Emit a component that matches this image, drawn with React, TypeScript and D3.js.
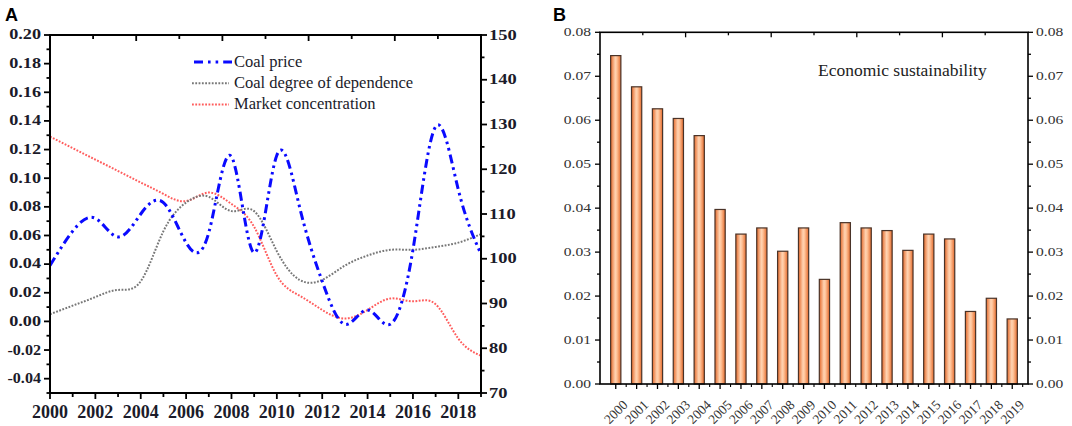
import * as d3 from 'd3'

// ---- data ----
const yearsA = d3.range(2000, 2020)
const coalPrice = [0.039, 0.063, 0.072, 0.059, 0.075, 0.083, 0.055, 0.062, 0.115, 0.048, 0.116, 0.080, 0.028, -0.002, 0.008, -0.002, 0.050, 0.136, 0.092, 0.047]
const coalDependence = [0.005, 0.011, 0.017, 0.022, 0.028, 0.063, 0.083, 0.087, 0.077, 0.077, 0.049, 0.029, 0.029, 0.039, 0.046, 0.050, 0.050, 0.052, 0.055, 0.061]
const marketConc = [0.129, 0.121, 0.113, 0.105, 0.097, 0.089, 0.084, 0.090, 0.082, 0.066, 0.032, 0.018, 0.008, 0.002, 0.008, 0.016, 0.014, 0.012, -0.012, -0.024]

const yearsB = d3.range(2000, 2020).map(String)
const econSust = [0.0747, 0.0676, 0.0626, 0.0604, 0.0565, 0.0397, 0.0341, 0.0355, 0.0302, 0.0355, 0.0238, 0.0367, 0.0355, 0.0349, 0.0304, 0.0341, 0.0330, 0.0165, 0.0195, 0.0148]

const leftTicksA = d3.range(-0.04, 0.2001, 0.02)
const rightTicksA = d3.range(70, 151, 10)
const xTicksA = d3.range(2000, 2019, 2)
const ticksB = d3.range(0, 0.0801, 0.01)

const SERIES = [
  { name: 'Coal price', values: coalPrice, color: '#0a0aff', width: 3, dash: '9 4 2.6 4 2.6 4' },
  { name: 'Coal degree of dependence', values: coalDependence, color: '#777777', width: 2, dash: '1.8 1.5' },
  { name: 'Market concentration', values: marketConc, color: '#ff5c5c', width: 2, dash: '1.8 1.5' },
]

const SERIF = '"Liberation Serif", "Times New Roman", serif'
const SANS = 'Arial, "Liberation Sans", sans-serif'

function StretchText({ x, y, anchor, sx, size, weight, fill, children }: any) {
  return (
    <text transform={`translate(${x},${y}) scale(${sx},1)`} textAnchor={anchor}
      fontSize={size} fontWeight={weight} fill={fill} fontFamily={SERIF} dominantBaseline="central">
      {children}
    </text>
  )
}

function PanelA() {
  const L = 50, R = 481, T = 35, B = 393
  const x = d3.scaleLinear().domain([2000, 2019]).range([L, R])
  const y = d3.scaleLinear().domain([-0.05, 0.2]).range([B, T])
  const y2 = d3.scaleLinear().domain([70, 150]).range([B, T])
  const top = d3.scaleLinear().domain([0, 10]).range([L, R])
  const line = d3.line<number>().x((_, i) => x(yearsA[i])).y(d => y(d)).curve(d3.curveNatural)

  return (
    <g>
      <text x={5} y={21} fontFamily={SANS} fontWeight="bold" fontSize={18}>A</text>
      {SERIES.slice().reverse().map(s => (
        <path key={s.name} d={line(s.values) ?? ''} fill="none" stroke={s.color}
          strokeWidth={s.width} strokeDasharray={s.dash} />
      ))}
      <rect x={L} y={T} width={R - L} height={B - T} fill="none" stroke="#000" strokeWidth={2} />
      {/* left axis */}
      {d3.range(-0.05, 0.2001, 0.01).map((v, i) => (
        <line key={'l' + i} x1={L} x2={L - (i % 2 === 1 ? 6 : 3.5)} y1={y(v)} y2={y(v)} stroke="#000" strokeWidth={1.8} />
      ))}
      {leftTicksA.map(v => (
        <StretchText key={'ll' + v} x={L - 9} y={y(v)} anchor="end" sx={v < 0 ? 1.15 : 1.3} size={14} weight="bold" fill="#1b1b2a">
          {d3.format('.2f')(v).replace('−', '-')}
        </StretchText>
      ))}
      {/* right axis */}
      {d3.range(70, 150.1, 5).map((v, i) => (
        <line key={'r' + i} x1={R} x2={R + (i % 2 === 0 ? 6 : 3.5)} y1={y2(v)} y2={y2(v)} stroke="#000" strokeWidth={1.8} />
      ))}
      {rightTicksA.map(v => (
        <StretchText key={'rl' + v} x={R + 8} y={y2(v)} anchor="start" sx={1.32} size={14} weight="bold" fill="#1b1b2a">
          {v}
        </StretchText>
      ))}
      {/* bottom axis */}
      {d3.range(2000, 2019.1, 1).map(v => (
        <line key={'b' + v} x1={x(v)} x2={x(v)} y1={B} y2={B + (v % 2 === 0 ? 6 : 4)} stroke="#000" strokeWidth={1.8} />
      ))}
      {xTicksA.map(v => (
        <text key={'bl' + v} x={x(v)} y={B + 25} textAnchor="middle" fontFamily={SERIF}
          fontWeight="bold" fontSize={18} fill="#1b1b2a">{v}</text>
      ))}
      {/* top ticks, inside */}
      {d3.range(1, 10).map(v => (
        <line key={'t' + v} x1={top(v)} x2={top(v)} y1={T} y2={T + (v % 2 === 0 ? 6 : 4)} stroke="#000" strokeWidth={1.8} />
      ))}
      {/* legend */}
      {SERIES.map((s, i) => {
        const ly = 62 + i * 21.2
        return (
          <g key={'lg' + s.name}>
            <line x1={i === 0 ? 194 : 192} x2={i === 0 ? 232 : 229} y1={ly} y2={ly} stroke={s.color}
              strokeWidth={s.width} strokeDasharray={i === 0 ? '9 5 2.6 5 2.6 5' : s.dash} />
            <text x={234} y={ly + 5} fontFamily={SERIF} fontSize={16.5} fill="#1b1b2a">{s.name}</text>
          </g>
        )
      })}
    </g>
  )
}

function PanelB() {
  const L = 600, R = 1028, T = 32.3, B = 384
  const x = d3.scaleBand().domain(yearsB).range([L, R]).padding(0.51)
  const y = d3.scaleLinear().domain([0, 0.08]).range([B, T])
  const top = d3.scaleLinear().domain([0, 10]).range([L, R])
  const step = x.step()
  return (
    <g>
      <defs>
        <linearGradient id="barGrad" x1="0" x2="1" y1="0" y2="0">
          <stop offset="0" stopColor="#e4692a" />
          <stop offset="0.45" stopColor="#ffd3b2" />
          <stop offset="0.6" stopColor="#ffc49a" />
          <stop offset="1" stopColor="#e4692a" />
        </linearGradient>
      </defs>
      <text x={553} y={21} fontFamily={SANS} fontWeight="bold" fontSize={18}>B</text>
      {econSust.map((v, i) => (
        <rect key={'bar' + i} x={x(yearsB[i])} y={y(v)} width={x.bandwidth()} height={B - y(v)}
          fill="url(#barGrad)" stroke="#4a3328" strokeWidth={1.2} />
      ))}
      <rect x={L} y={T} width={R - L} height={B - T} fill="none" stroke="#000" strokeWidth={1.6} />
      {d3.range(0, 0.0801, 0.005).map((v, i) => (
        <g key={'lt' + i}>
          <line x1={L} x2={L - (i % 2 === 0 ? 5 : 3)} y1={y(v)} y2={y(v)} stroke="#000" strokeWidth={1.3} />
          <line x1={R} x2={R + (i % 2 === 0 ? 5 : 3)} y1={y(v)} y2={y(v)} stroke="#000" strokeWidth={1.3} />
        </g>
      ))}
      {ticksB.map(v => (
        <g key={'tl' + v}>
          <StretchText x={L - 9} y={y(v)} anchor="end" sx={1.35} size={11.5} fill="#333">{d3.format('.2f')(v)}</StretchText>
          <StretchText x={R + 8} y={y(v)} anchor="start" sx={1.35} size={11.5} fill="#333">{d3.format('.2f')(v)}</StretchText>
        </g>
      ))}
      {yearsB.map(c => {
        const cx = (x(c) ?? 0) + x.bandwidth() / 2
        return (
          <g key={'xt' + c}>
            <line x1={cx} x2={cx} y1={B} y2={B + 5} stroke="#000" strokeWidth={1.3} />
            <line x1={cx + step / 2} x2={cx + step / 2} y1={B} y2={B + 3} stroke="#000" strokeWidth={1.1} />
            <text transform={`translate(${cx},${412}) rotate(-45)`} textAnchor="middle" dominantBaseline="central"
              fontFamily={SERIF} fontSize={13.5} fill="#333">{c}</text>
          </g>
        )
      })}
      {d3.range(1, 10).map(v => (
        <line key={'tt' + v} x1={top(v)} x2={top(v)} y1={T} y2={T + (v % 2 === 0 ? 5 : 3)} stroke="#000" strokeWidth={1.3} />
      ))}
      <text x={818} y={76} fontFamily={SERIF} fontSize={17.5} fill="#222">Economic sustainability</text>
    </g>
  )
}

export default function App() {
  return (
    <svg width={1072} height={426} style={{ position: 'absolute', left: 0, top: 0, background: '#fff' }}>
      <rect width={1072} height={426} fill="#fff" />
      <PanelA />
      <PanelB />
    </svg>
  )
}
